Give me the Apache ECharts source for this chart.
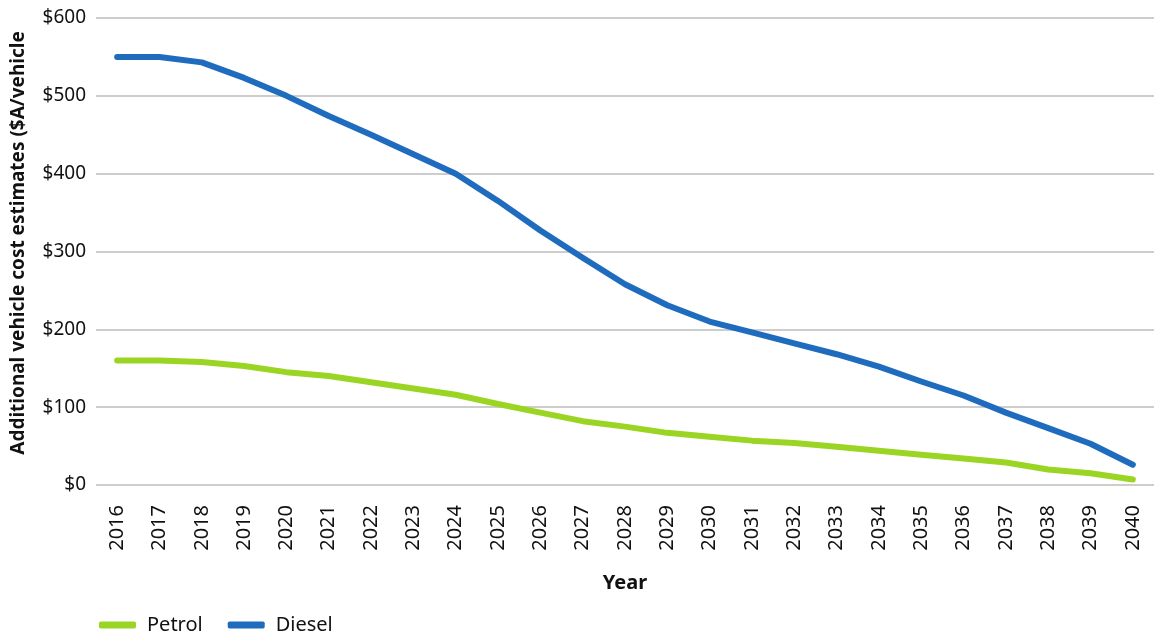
<!DOCTYPE html>
<html>
<head>
<meta charset="utf-8">
<script src="https://cdn.jsdelivr.net/npm/echarts@6/dist/echarts.min.js"></script>
<style>
  html, body { margin: 0; padding: 0; background: #fff; }
  #chart { width: 1155px; height: 633px; }
</style>
</head>
<body>
<div id="chart"></div>
<script>
// Years on the category axis
const years = ['2016','2017','2018','2019','2020','2021','2022','2023','2024','2025','2026','2027',
               '2028','2029','2030','2031','2032','2033','2034','2035','2036','2037','2038','2039','2040'];

// Additional vehicle cost estimates, $A per vehicle
const petrol = [160, 160, 158, 153, 145, 140, 132, 124, 116, 104, 93, 82,
                75, 67, 62, 57, 54, 49, 44, 39, 34, 29, 20, 15, 7];
const diesel = [550, 550, 543, 523, 500, 474, 450, 425, 400, 365, 327, 292,
                258, 231, 210, 196, 182, 168, 152, 133, 115, 93, 73, 53, 26];

const yTitle = 'Additional vehicle cost estimates ($A/vehicle';

const FONT = '"Noto Sans", "Open Sans", sans-serif';
const chart = echarts.init(document.getElementById('chart'), null, { renderer: 'canvas' });

chart.setOption({
  animation: false,
  backgroundColor: '#ffffff',
  textStyle: { fontFamily: FONT },
  grid: { left: 96, right: 1, top: 18, bottom: 148, containLabel: false },
  legend: {
    left: 94, top: 610,
    itemWidth: 37, itemHeight: 7, itemGap: 25,
    icon: 'roundRect',
    textStyle: { fontSize: 20, color: '#111', fontFamily: FONT, padding: [0, 0, 0, 6] },
    data: ['Petrol', 'Diesel']
  },
  // vertical axis title, drawn as rotated text beside the value axis
  graphic: [{
    type: 'text',
    x: 19, y: 243,
    rotation: Math.PI / 2,
    style: {
      text: yTitle,
      fontSize: 19, fontWeight: 'bold', fontFamily: FONT, fill: '#111',
      align: 'center', verticalAlign: 'middle'
    }
  }],
  xAxis: {
    type: 'category',
    data: years,
    boundaryGap: true,
    name: 'Year',
    nameLocation: 'middle',
    nameGap: 88,
    nameTextStyle: { fontSize: 20, fontWeight: 'bold', color: '#111', fontFamily: FONT },
    axisLine: { show: false },
    axisTick: { show: false },
    axisLabel: { rotate: 90, margin: 20, fontSize: 20, color: '#111', fontFamily: FONT, interval: 0 },
    splitLine: { show: false }
  },
  yAxis: {
    type: 'value',
    min: 0, max: 600, interval: 100,
    axisLine: { show: false },
    axisTick: { show: false },
    axisLabel: { margin: 10, fontSize: 19, color: '#111', fontFamily: FONT, formatter: v => '$' + v },
    splitLine: { show: true, lineStyle: { color: '#bdbdbd', width: 1.5 } }
  },
  series: [
    {
      name: 'Petrol', type: 'line', data: petrol,
      symbol: 'none',
      itemStyle: { color: '#9bd523' },
      lineStyle: { color: '#9bd523', width: 6, cap: 'round', join: 'round' }
    },
    {
      name: 'Diesel', type: 'line', data: diesel,
      symbol: 'none',
      itemStyle: { color: '#1f6cbf' },
      lineStyle: { color: '#1f6cbf', width: 6, cap: 'round', join: 'round' }
    }
  ]
});
</script>
</body>
</html>
